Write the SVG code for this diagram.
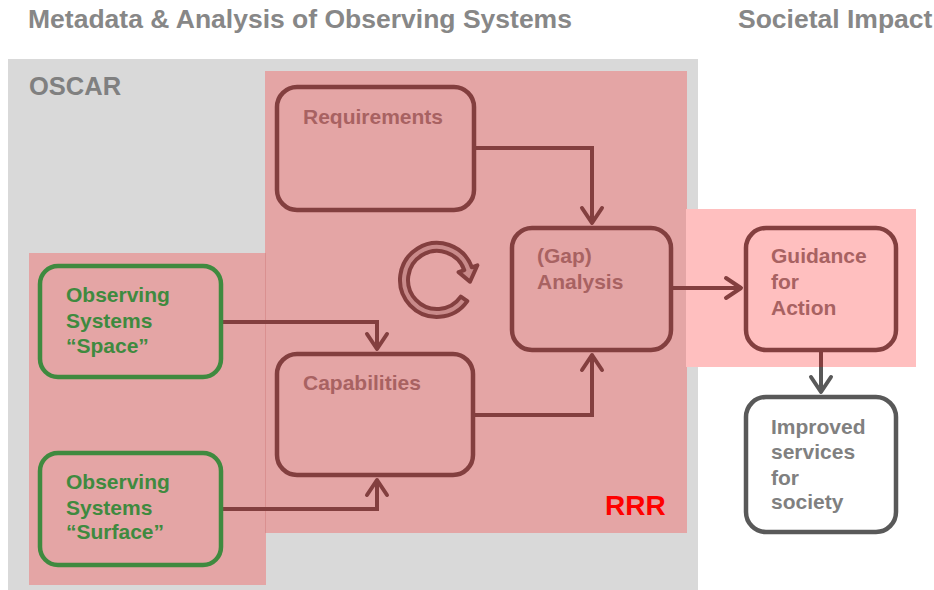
<svg xmlns="http://www.w3.org/2000/svg" width="934" height="590" viewBox="0 0 934 590">
<defs>
<style>
.title{font-family:"Liberation Sans",Arial,sans-serif;font-weight:bold;font-size:26.5px;fill:#878787}
.oscar{font-family:"Liberation Sans",Arial,sans-serif;font-weight:bold;font-size:25.5px;fill:#808080}
.lbl{font-family:"Liberation Sans",Arial,sans-serif;font-weight:bold;font-size:21px}
.red{fill:#A86262}
.grn{fill:#3F8A3F}
.gry{fill:#808080}
.box{fill:none;stroke:#833F3F;stroke-width:4.5}
.gbox{fill:none;stroke:#3F8A3F;stroke-width:4.5}
.wbox{fill:#FFFFFF;stroke:#595959;stroke-width:4.5}
.con{fill:none;stroke:#833F3F;stroke-width:4}
</style>
<marker id="ah" markerUnits="userSpaceOnUse" viewBox="-18 -13 22 26" markerWidth="22" markerHeight="26" refX="0" refY="0" orient="auto">
<path d="M-15,-10 L0,0 L-15,10" fill="none" stroke="#833F3F" stroke-width="4" stroke-linecap="round" stroke-linejoin="round"/>
</marker>
<marker id="ahg" markerUnits="userSpaceOnUse" viewBox="-18 -13 22 26" markerWidth="22" markerHeight="26" refX="0" refY="0" orient="auto">
<path d="M-15,-10 L0,0 L-15,10" fill="none" stroke="#595959" stroke-width="4" stroke-linecap="round" stroke-linejoin="round"/>
</marker>
</defs>
<rect width="934" height="590" fill="#FFFFFF"/>
<g id="regions">
<rect x="8" y="59" width="690" height="531" fill="#D9D9D9"/>
<rect x="265" y="71" width="422" height="462" fill="#E4A5A5"/>
<rect x="29" y="253" width="237" height="332" fill="#E4A5A5"/>
<line x1="265.5" y1="253" x2="265.5" y2="533" stroke="#DA9090" stroke-width="1"/>
<rect x="686" y="209" width="230" height="158" fill="#FFBFBF"/>
</g>
<g id="titles">
<text class="title" x="28" y="28">Metadata &amp; Analysis of Observing Systems</text>
<text class="title" x="738" y="28">Societal Impact</text>
<text class="oscar" x="29" y="95">OSCAR</text>
<text x="605" y="515" style="font-family:'Liberation Sans',Arial,sans-serif;font-weight:bold;font-size:28px;fill:#FF0000">RRR</text>
</g>
<g id="connectors">
<path class="con" d="M474,148 H592 V223" marker-end="url(#ah)"/>
<path class="con" d="M221,322 H377 V349" marker-end="url(#ah)"/>
<path class="con" d="M221,509 H377 V480" marker-end="url(#ah)"/>
<path class="con" d="M475,415 H592 V355" marker-end="url(#ah)"/>
<path class="con" d="M673,288 H741" marker-end="url(#ah)"/>
<path d="M821,352 V367" stroke="#833F3F" stroke-width="4" fill="none"/>
<path d="M821,367 V392" stroke="#595959" stroke-width="4" fill="none" marker-end="url(#ahg)"/>
</g>
<g id="cycle">
<path d="M467.3,301.2 A37,37 0 1 1 471.8,267.3 L477.4,265.3 L470,281.7 L458.6,272.1 L464.3,270.1 A29,29 0 1 0 460.8,296.6 Z" fill="#C98A8A" stroke="#833F3F" stroke-width="4" stroke-linejoin="round"/>
</g>
<g id="requirements">
<rect class="box" x="277" y="87" width="197" height="123" rx="20"/>
<text class="lbl red" x="303" y="124">Requirements</text>
</g>
<g id="gap-analysis">
<rect class="box" x="512" y="228" width="159" height="122" rx="20"/>
<text class="lbl red" x="537" y="263">(Gap)</text>
<text class="lbl red" x="537" y="289">Analysis</text>
</g>
<g id="capabilities">
<rect class="box" x="277" y="354" width="196" height="121" rx="20"/>
<text class="lbl red" x="303" y="390">Capabilities</text>
</g>
<g id="obs-space">
<rect class="gbox" x="40" y="266" width="181" height="111" rx="18"/>
<text class="lbl grn" x="66" y="302">Observing</text>
<text class="lbl grn" x="66" y="328">Systems</text>
<text class="lbl grn" x="66" y="353">“Space”</text>
</g>
<g id="obs-surface">
<rect class="gbox" x="40" y="453" width="181" height="112" rx="18"/>
<text class="lbl grn" x="66" y="489">Observing</text>
<text class="lbl grn" x="66" y="515">Systems</text>
<text class="lbl grn" x="66" y="539">“Surface”</text>
</g>
<g id="guidance">
<rect class="box" x="746" y="228" width="150" height="122" rx="20"/>
<text class="lbl red" x="771" y="263">Guidance</text>
<text class="lbl red" x="771" y="289">for</text>
<text class="lbl red" x="771" y="315">Action</text>
</g>
<g id="improved">
<rect class="wbox" x="746" y="397" width="150" height="135" rx="20"/>
<text class="lbl gry" x="771" y="434">Improved</text>
<text class="lbl gry" x="771" y="459">services</text>
<text class="lbl gry" x="771" y="485">for</text>
<text class="lbl gry" x="771" y="509">society</text>
</g>
</svg>
